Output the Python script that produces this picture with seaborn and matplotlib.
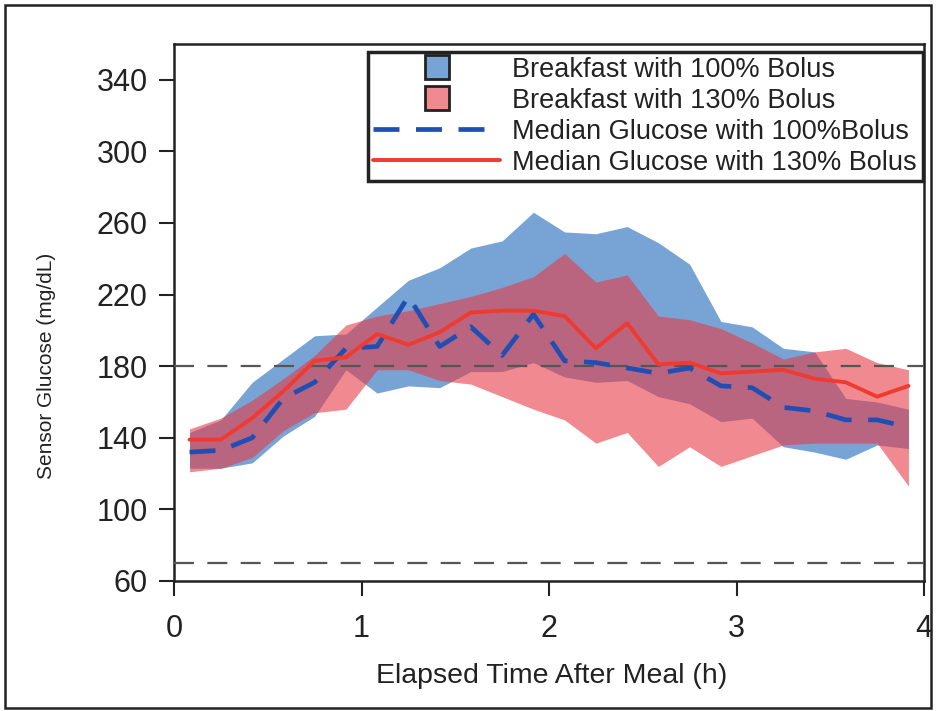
import numpy as np
import pandas as pd
import matplotlib
matplotlib.use("Agg")
import matplotlib.pyplot as plt
from matplotlib.lines import Line2D
from matplotlib.patches import Rectangle
from matplotlib.colors import to_rgba
import seaborn as sns

# time after meal (h), one value every 10 min
time_h = [0.083, 0.25, 0.417, 0.583, 0.75, 0.917, 1.083, 1.25, 1.417, 1.583, 1.75, 1.917,
          2.083, 2.25, 2.417, 2.583, 2.75, 2.917, 3.083, 3.25, 3.417, 3.583, 3.75, 3.917]

# 100% bolus: median and band
median_100 = [132, 133, 140, 162, 171, 190, 191, 219, 191, 202, 186, 209,
              183, 182, 179, 176, 179, 169, 168, 157, 155, 150, 150, 146]
upper_100 = [143, 150, 171, 184, 197, 198, 213, 228, 235, 246, 250, 266,
             255, 254, 258, 249, 237, 205, 202, 190, 188, 162, 160, 156]
lower_100 = [123, 123, 126, 141, 152, 178, 165, 169, 168, 177, 177, 182,
             174, 171, 172, 163, 159, 149, 151, 135, 132, 128, 136, 134]

# 130% bolus: median and band
median_130 = [139, 139, 151, 166, 183, 185, 198, 192, 199, 210, 211, 211,
              208, 190, 204, 181, 182, 176, 177, 178, 173, 171, 163, 169]
upper_130 = [145, 151, 161, 173, 186, 203, 208, 211, 215, 219, 224, 230,
             243, 227, 231, 208, 206, 201, 193, 184, 188, 190, 182, 178]
lower_130 = [121, 123, 129, 144, 154, 156, 178, 178, 172, 170, 163, 156,
             150, 137, 143, 124, 135, 124, 130, 136, 137, 137, 137, 113]

target_high = 180
target_low = 70

legend_labels = ["Breakfast with 100% Bolus", "Breakfast with 130% Bolus",
                 "Median Glucose with 100%Bolus", "Median Glucose with 130% Bolus"]

blue_band = "#4a86c8"
red_band = "#e63c46"
blue_line = "#1f4fb5"
red_line = "#f03a30"
ink = "#222222"

sns.set_style("ticks")
plt.rcParams['font.family'] = ['Liberation Sans', 'DejaVu Sans']

fig = plt.figure(figsize=(9.37, 7.11), dpi=100)
ax = fig.add_axes([174 / 937, 1 - 581 / 711, 750 / 937, 537 / 711])

ax.fill_between(time_h, lower_100, upper_100, color=blue_band, alpha=0.75, lw=0, zorder=1)
ax.fill_between(time_h, lower_130, upper_130, color=red_band, alpha=0.6, lw=0, zorder=2)

for yref in (target_high, target_low):
    ax.axhline(yref, color="#555555", lw=1.6, dashes=(9, 6), zorder=3)

df_100 = pd.DataFrame({"time": time_h, "glucose": median_100})
df_130 = pd.DataFrame({"time": time_h, "glucose": median_130})
sns.lineplot(data=df_100, x="time", y="glucose", color=blue_line, lw=3.4,
             ax=ax, zorder=4, linestyle=(0, (5.5, 3.5)))
sns.lineplot(data=df_130, x="time", y="glucose", color=red_line, lw=2.8, ax=ax, zorder=5)

ax.set_xlim(0, 4)
ax.set_ylim(60, 360)
ax.set_xticks([0, 1, 2, 3, 4])
ax.set_yticks(range(60, 341, 40))
ax.tick_params(labelsize=22, length=11, width=1.5, color=ink, labelcolor=ink)
ax.tick_params(axis="x", pad=13)
ax.tick_params(axis="y", pad=8)
for sp in ax.spines.values():
    sp.set_linewidth(1.8)
    sp.set_color(ink)

ax.set_xlabel("Elapsed Time After Meal (h)", fontsize=20.5, color=ink)
ax.set_ylabel("Sensor Glucose (mg/dL)", fontsize=15, color=ink)
ax.xaxis.set_label_coords(0.503, -0.152)
ax.yaxis.set_label_coords(-0.157, 0.40)

handles = [
    Line2D([], [], marker="s", ms=17, mfc=to_rgba(blue_band, 0.75), mec=ink, mew=2, ls="none"),
    Line2D([], [], marker="s", ms=17, mfc=to_rgba(red_band, 0.6), mec=ink, mew=2, ls="none"),
    Line2D([], [], color=blue_line, lw=3.4, linestyle=(0, (5.5, 3.5))),
    Line2D([], [], color=red_line, lw=2.8),
]
leg = ax.legend(handles, legend_labels, loc="upper right", bbox_to_anchor=(0.998, 0.986),
                borderaxespad=0, fontsize=19.5, handlelength=4.7, handletextpad=0.45,
                labelspacing=0.18, borderpad=0.2, frameon=True, fancybox=False,
                edgecolor=ink, framealpha=1)
leg.get_frame().set_linewidth(2.5)
for t in leg.get_texts():
    t.set_color(ink)

fig.patches.append(Rectangle((5 / 937, 3 / 711), 926 / 937, 703 / 711, transform=fig.transFigure,
                             fill=False, lw=1.8, edgecolor=ink))

fig.savefig("out.png", dpi=100)
